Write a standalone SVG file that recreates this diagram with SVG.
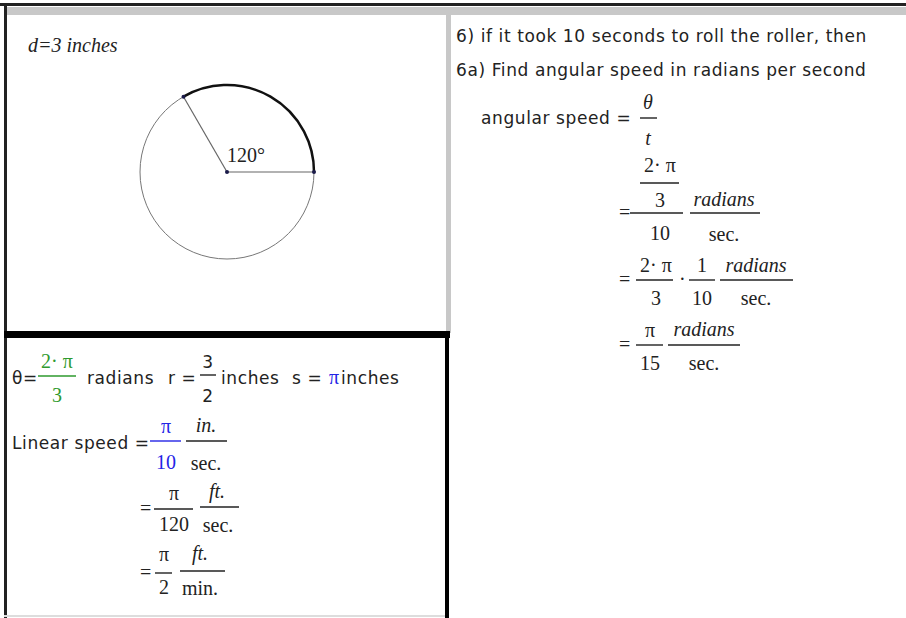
<svg xmlns="http://www.w3.org/2000/svg" width="906" height="618" viewBox="0 0 906 618">
<style>
.s{font-family:"DejaVu Sans","Liberation Sans",sans-serif;font-size:17px;letter-spacing:0.6px;fill:#222}
.m{font-family:"Liberation Serif",serif;font-size:20px;fill:#222}
.i{font-style:italic}
.g{fill:#2e9a2e}
.b{fill:#2424e6}
.bar{stroke:#222;stroke-width:1.4}
.gb{stroke:#2e9a2e;stroke-width:1.4}
.bb{stroke:#2424e6;stroke-width:1.4}
</style>
<rect width="906" height="618" fill="#fff"/>
<g id="frame">
<rect x="0" y="3" width="906" height="3" fill="#222"/>
<rect x="4" y="7" width="902" height="8" fill="#c8c8c8"/>
<rect x="4" y="4" width="3" height="614" fill="#222"/>
<rect x="446" y="7" width="5" height="326" fill="#c8c8c8"/>
<rect x="4" y="331" width="446" height="7" fill="#000"/>
<rect x="445" y="331" width="4" height="287" fill="#000"/>
<rect x="4" y="615" width="441" height="2" fill="#ddd"/>
</g>
<g id="geometry">
<text x="28" y="52" class="m i">d=3 inches</text>
<circle cx="227" cy="172" r="87" fill="none" stroke="#777" stroke-width="1"/>
<path d="M183.5 96.7 A87 87 0 0 1 314 172" fill="none" stroke="#111" stroke-width="2.5"/>
<line x1="227" y1="172" x2="183.5" y2="96.7" stroke="#666" stroke-width="1.2"/>
<line x1="227" y1="172" x2="314" y2="172" stroke="#666" stroke-width="1.2"/>
<circle cx="227" cy="172" r="2" fill="#1a1a4a"/>
<circle cx="183.5" cy="96.7" r="2" fill="#1a1a4a"/>
<circle cx="314" cy="172" r="2" fill="#1a1a4a"/>
<text x="227" y="162" class="m">120°</text>
</g>
<g id="linear">
<text x="12" y="384" class="s">θ=</text>
<text x="57" y="368" class="m g" text-anchor="middle">2· π</text>
<line x1="38" y1="376" x2="76" y2="376" class="gb"/>
<text x="57" y="402" class="m g" text-anchor="middle">3</text>
<text x="87" y="384" class="s">radians</text>
<text x="168" y="384" class="s">r =</text>
<text x="208" y="368" class="s" text-anchor="middle">3</text>
<line x1="200" y1="375" x2="216" y2="375" class="bar"/>
<text x="208" y="402" class="s" text-anchor="middle">2</text>
<text x="221" y="384" class="s">inches</text>
<text x="292" y="384" class="s">s =</text>
<text x="329" y="384" class="m b">π</text>
<text x="341" y="384" class="s">inches</text>

<text x="12" y="449" class="s">Linear speed =</text>
<line x1="150" y1="441" x2="181" y2="441" class="bb"/>
<text x="166" y="433" class="m b" text-anchor="middle">π</text>
<text x="166" y="469" class="m b" text-anchor="middle">10</text>
<text x="206" y="432" class="m i" text-anchor="middle">in.</text>
<line x1="186" y1="441" x2="227" y2="441" class="bar"/>
<text x="206" y="470" class="m" text-anchor="middle">sec.</text>

<text x="140" y="515" class="m">=</text>
<text x="174" y="500" class="m" text-anchor="middle">π</text>
<line x1="154" y1="509" x2="193" y2="509" class="bar"/>
<text x="174" y="531" class="m" text-anchor="middle">120</text>
<text x="217" y="498" class="m i" text-anchor="middle">ft.</text>
<line x1="200" y1="507" x2="239" y2="507" class="bar"/>
<text x="218" y="532" class="m" text-anchor="middle">sec.</text>

<text x="140" y="579" class="m">=</text>
<text x="164" y="561" class="m" text-anchor="middle">π</text>
<line x1="155" y1="573" x2="172" y2="573" class="bar"/>
<text x="164" y="594" class="m" text-anchor="middle">2</text>
<text x="200" y="560" class="m i" text-anchor="middle">ft.</text>
<line x1="180" y1="571" x2="225" y2="571" class="bar"/>
<text x="200" y="595" class="m" text-anchor="middle">min.</text>
</g>
<g id="angular">
<text x="456" y="42" class="s">6) if it took 10 seconds to roll the roller, then</text>
<text x="456" y="76" class="s">6a) Find angular speed in radians per second</text>
<text x="481" y="124" class="s">angular speed =</text>
<text x="648" y="109" class="m i" text-anchor="middle">θ</text>
<line x1="640" y1="118" x2="657" y2="118" class="bar"/>
<text x="648" y="145" class="m i" text-anchor="middle">t</text>

<text x="660" y="172" class="m" text-anchor="middle">2· π</text>
<line x1="640" y1="183" x2="679" y2="183" class="bar"/>
<text x="660" y="207" class="m" text-anchor="middle">3</text>
<text x="619" y="219" class="m">=</text>
<line x1="630" y1="213" x2="683" y2="213" class="bar"/>
<text x="660" y="240" class="m" text-anchor="middle">10</text>
<text x="724" y="206" class="m i" text-anchor="middle">radians</text>
<line x1="690" y1="213" x2="760" y2="213" class="bar"/>
<text x="724" y="241" class="m" text-anchor="middle">sec.</text>

<text x="619" y="286" class="m">=</text>
<text x="656" y="272" class="m" text-anchor="middle">2· π</text>
<line x1="636" y1="280" x2="673" y2="280" class="bar"/>
<text x="656" y="305" class="m" text-anchor="middle">3</text>
<text x="679" y="286" class="m">·</text>
<text x="702" y="272" class="m" text-anchor="middle">1</text>
<line x1="689" y1="280" x2="715" y2="280" class="bar"/>
<text x="702" y="305" class="m" text-anchor="middle">10</text>
<text x="756" y="272" class="m i" text-anchor="middle">radians</text>
<line x1="720" y1="280" x2="793" y2="280" class="bar"/>
<text x="756" y="305" class="m" text-anchor="middle">sec.</text>

<text x="619" y="351" class="m">=</text>
<text x="650" y="337" class="m" text-anchor="middle">π</text>
<line x1="636" y1="345" x2="663" y2="345" class="bar"/>
<text x="650" y="370" class="m" text-anchor="middle">15</text>
<text x="704" y="336" class="m i" text-anchor="middle">radians</text>
<line x1="668" y1="345" x2="740" y2="345" class="bar"/>
<text x="704" y="370" class="m" text-anchor="middle">sec.</text>
</g>
</svg>
